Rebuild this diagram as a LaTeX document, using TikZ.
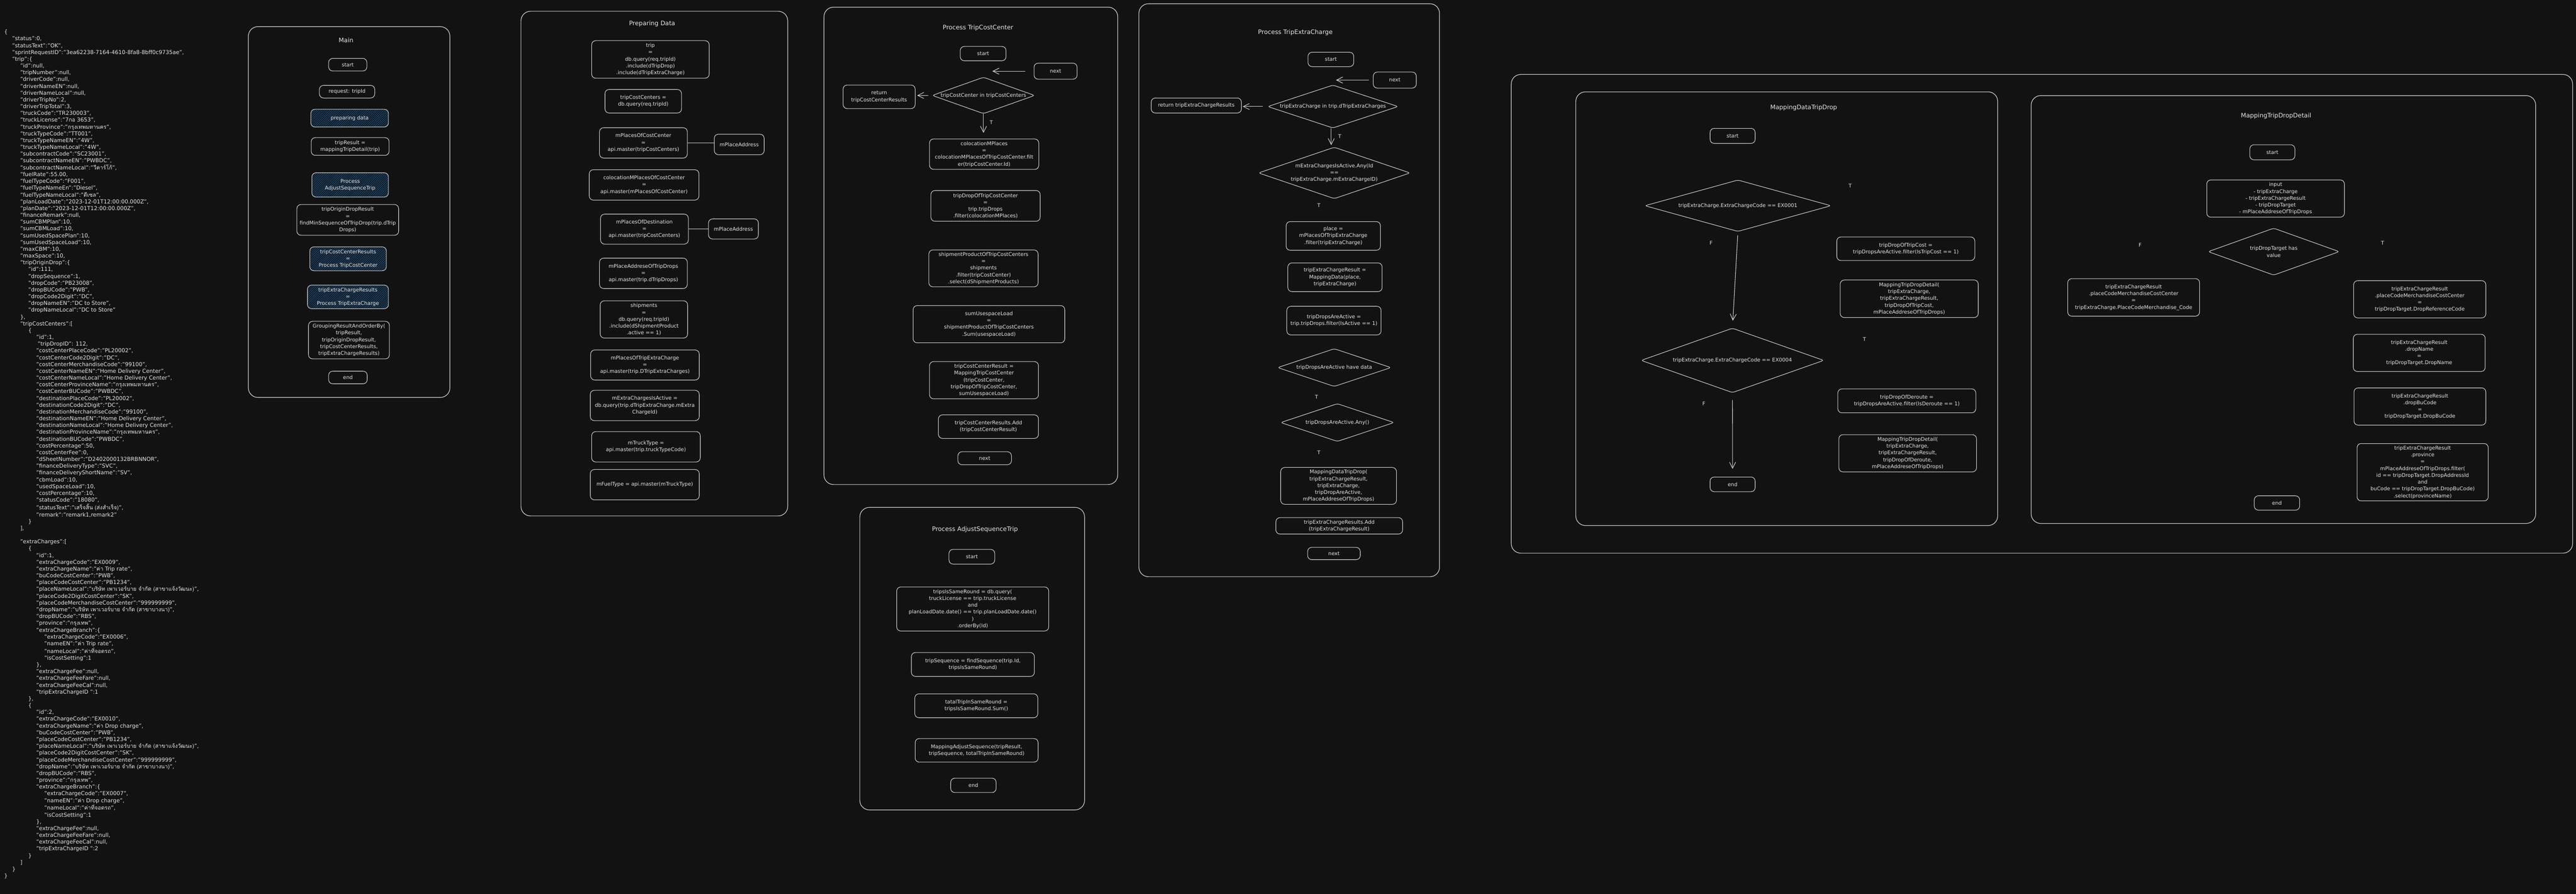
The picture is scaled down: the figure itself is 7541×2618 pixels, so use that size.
\documentclass[tikz,border=0pt]{standalone}
\usepackage{fontspec}
\setmainfont{DejaVu Sans}
\newfontfamily\thaifont[Script=Thai]{Loma}
\usetikzlibrary{shapes.geometric,arrows.meta,patterns.meta}
\definecolor{bgc}{HTML}{121212}
\definecolor{edge}{HTML}{CFCFCF}
\definecolor{txt}{HTML}{E6E6E6}
\definecolor{hatch}{HTML}{1E4B70}
\definecolor{hatchbg}{HTML}{121820}
\newlength\jsonstep
\setlength\jsonstep{23.5pt}
\newcommand\jin[1]{\hspace*{#1\jsonstep}}
\newcommand\thtext[1]{{\thaifont #1}}
\begin{document}
\begin{tikzpicture}[x=1pt,y=-1pt,
	font=\fontsize{15}{20}\selectfont, text=txt,
	wh/.style 2 args={minimum width=#1pt, minimum height=#2pt},
	procbox/.style={draw=edge, line width=1.6pt, rounded corners=12pt, align=center, inner sep=0pt},
	hatchbox/.style={procbox, preaction={fill=hatchbg}, pattern={Lines[angle=45,distance=4.5pt,line width=1.5pt]}, pattern color=hatch},
	decision/.style={draw=edge, line width=1.6pt, diamond, rounded corners=6pt, inner sep=0pt},
	panel/.style={draw=edge, line width=1.8pt, rounded corners=28pt},
	ttl/.style={font=\fontsize{18}{22}\selectfont},
	tf/.style={font=\fontsize{15}{18}\selectfont},
	flowarrow/.style={draw=edge, line width=1.6pt, -{Straight Barb[length=18pt,width=18pt]}},
	jsonblock/.style={anchor=north west, inner sep=0pt, font=\fontsize{16}{19.86}\selectfont}]

	\useasboundingbox (0,0) rectangle (7541,2618);
	\fill[bgc] (0,0) rectangle (7541,2618);

	% json sample
	\node[jsonblock] (json) at (12,85) {\begin{tabular}{@{}l@{}}
	\{\\
	\jin{1}"status":0,\\
	\jin{1}"statusText":"OK",\\
	\jin{1}"sprintRequestID":"3ea62238-7164-4610-8fa8-8bff0c9735ae",\\
	\jin{1}"trip":\{\\
	\jin{2}"id":null,\\
	\jin{2}"tripNumber":null,\\
	\jin{2}"driverCode":null,\\
	\jin{2}"driverNameEN":null,\\
	\jin{2}"driverNameLocal":null,\\
	\jin{2}"driverTripNo":2,\\
	\jin{2}"driverTripTotal":3,\\
	\jin{2}"truckCode":"TR230003",\\
	\jin{2}"truckLicense":"7\thtext{กอ} 3653",\\
	\jin{2}"truckProvince":"\thtext{กรุงเทพมหานคร}",\\
	\jin{2}"truckTypeCode":"TT001",\\
	\jin{2}"truckTypeNameEN":"4W",\\
	\jin{2}"truckTypeNameLocal":"4W",\\
	\jin{2}"subcontractCode":"SC23001",\\
	\jin{2}"subcontractNameEN":"PWBDC",\\
	\jin{2}"subcontractNameLocal":"\thtext{วีคาร์โก้}",\\
	\jin{2}"fuelRate":55.00,\\
	\jin{2}"fuelTypeCode":"F001",\\
	\jin{2}"fuelTypeNameEn":"Diesel",\\
	\jin{2}"fuelTypeNameLocal":"\thtext{ดีเซล}",\\
	\jin{2}"planLoadDate":"2023-12-01T12:00:00.000Z",\\
	\jin{2}"planDate":"2023-12-01T12:00:00.000Z",\\
	\jin{2}"financeRemark":null,\\
	\jin{2}"sumCBMPlan":10,\\
	\jin{2}"sumCBMLoad":10,\\
	\jin{2}"sumUsedSpacePlan":10,\\
	\jin{2}"sumUsedSpaceLoad":10,\\
	\jin{2}"maxCBM":10,\\
	\jin{2}"maxSpace":10,\\
	\jin{2}"tripOriginDrop":\{\\
	\jin{3}"id":111,\\
	\jin{3}"dropSequence":1,\\
	\jin{3}"dropCode":"PB23008",\\
	\jin{3}"dropBUCode":"PWB",\\
	\jin{3}"dropCode2Digit":"DC",\\
	\jin{3}"dropNameEN":"DC to Store",\\
	\jin{3}"dropNameLocal":"DC to Store"\\
	\jin{2}\},\\
	\jin{2}"tripCostCenters":[\\
	\jin{3}\{\\
	\jin{4}"id":1,\\
	\jin{4}\hspace*{4pt}"tripDropID": 112,\\
	\jin{4}"costCenterPlaceCode":"PL20002",\\
	\jin{4}"costCenterCode2Digit":"DC",\\
	\jin{4}"costCenterMerchandiseCode":"99100",\\
	\jin{4}"costCenterNameEN":"Home Delivery Center",\\
	\jin{4}"costCenterNameLocal":"Home Delivery Center",\\
	\jin{4}"costCenterProvinceName":"\thtext{กรุงเทพมหานคร}",\\
	\jin{4}"costCenterBUCode":"PWBDC",\\
	\jin{4}"destinationPlaceCode":"PL20002",\\
	\jin{4}"destinationCode2Digit":"DC",\\
	\jin{4}"destinationMerchandiseCode":"99100",\\
	\jin{4}"destinationNameEN":"Home Delivery Center",\\
	\jin{4}"destinationNameLocal":"Home Delivery Center",\\
	\jin{4}"destinationProvinceName":"\thtext{กรุงเทพมหานคร}",\\
	\jin{4}"destinationBUCode":"PWBDC",\\
	\jin{4}"costPercentage":50,\\
	\jin{4}"costCenterFee":0,\\
	\jin{4}"dSheetNumber":"D2402000132BRBNNOR",\\
	\jin{4}"financeDeliveryType":"SVC",\\
	\jin{4}"financeDeliveryShortName":"SV",\\
	\jin{4}"cbmLoad":10,\\
	\jin{4}"usedSpaceLoad":10,\\
	\jin{4}"costPercentage":10,\\
	\jin{4}"statusCode":"18080",\\
	\jin{4}"statusText":"\thtext{เสร็จสิ้น (ส่งสำเร็จ)}",\\
	\jin{4}"remark":"remark1,remark2"\\
	\jin{3}\}\\
	\jin{2}],\\
	\mbox{}\\
	\jin{2}"extraCharges":[\\
	\jin{3}\{\\
	\jin{4}"id":1,\\
	\jin{4}"extraChargeCode":"EX0009",\\
	\jin{4}"extraChargeName":"\thtext{ค่า} Trip rate",\\
	\jin{4}"buCodeCostCenter":"PWB",\\
	\jin{4}"placeCodeCostCenter":"PB1234",\\
	\jin{4}"placeNameLocal":"\thtext{บริษัท เพาเวอร์บาย จำกัด (สาขาแจ้งวัฒนะ)}",\\
	\jin{4}"placeCode2DigitCostCenter":"SK",\\
	\jin{4}"placeCodeMerchandiseCostCenter":"999999999",\\
	\jin{4}"dropName":"\thtext{บริษัท เพาเวอร์บาย จำกัด (สาขาบางนา)}",\\
	\jin{4}"dropBUCode":"RBS",\\
	\jin{4}"province":"\thtext{กรุงเทพ}",\\
	\jin{4}"extraChargeBranch":\{\\
	\jin{5}"extraChargeCode":"EX0006",\\
	\jin{5}"nameEN":"\thtext{ค่า} Trip rate",\\
	\jin{5}"nameLocal":"\thtext{ค่าที่จอดรถ}",\\
	\jin{5}"isCostSetting":1\\
	\jin{4}\},\\
	\jin{4}"extraChargeFee":null,\\
	\jin{4}"extraChargeFeeFare":null,\\
	\jin{4}"extraChargeFeeCal":null,\\
	\jin{4}"tripExtraChargeID ":1\\
	\jin{3}\},\\
	\jin{3}\{\\
	\jin{4}"id":2,\\
	\jin{4}"extraChargeCode":"EX0010",\\
	\jin{4}"extraChargeName":"\thtext{ค่า} Drop charge",\\
	\jin{4}"buCodeCostCenter":"PWB",\\
	\jin{4}"placeCodeCostCenter":"PB1234",\\
	\jin{4}"placeNameLocal":"\thtext{บริษัท เพาเวอร์บาย จำกัด (สาขาแจ้งวัฒนะ)}",\\
	\jin{4}"placeCode2DigitCostCenter":"SK",\\
	\jin{4}"placeCodeMerchandiseCostCenter":"999999999",\\
	\jin{4}"dropName":"\thtext{บริษัท เพาเวอร์บาย จำกัด (สาขาบางนา)}",\\
	\jin{4}"dropBUCode":"RBS",\\
	\jin{4}"province":"\thtext{กรุงเทพ}",\\
	\jin{4}"extraChargeBranch":\{\\
	\jin{5}"extraChargeCode":"EX0007",\\
	\jin{5}"nameEN":"\thtext{ค่า} Drop charge",\\
	\jin{5}"nameLocal":"\thtext{ค่าที่จอดรถ}",\\
	\jin{5}"isCostSetting":1\\
	\jin{4}\},\\
	\jin{4}"extraChargeFee":null,\\
	\jin{4}"extraChargeFeeFare":null,\\
	\jin{4}"extraChargeFeeCal":null,\\
	\jin{4}"tripExtraChargeID ":2\\
	\jin{3}\}\\
	\jin{2}]\\
	\jin{1}\}\\
	\}
	\end{tabular}};

	% Main
	\draw[panel] (727,78) rectangle (1317,1164);
	\node[ttl] (mTitle) at (1013,118) {Main};
	\node[procbox, wh={112}{37}] (mStart) at (1018,189.5) {start};
	\node[procbox, wh={162}{37}] (mRequest) at (1016,268.5) {request: tripId};
	\node[hatchbox, wh={227}{52}] (mPrep) at (1023.5,346) {preparing data};
	\node[procbox, wh={228}{52}] (mTripResult) at (1025,429) {tripResult =\\mappingTripDetail(trip)};
	\node[hatchbox, wh={224}{71}] (mAdjust) at (1025,541.5) {Process\\AdjustSequenceTrip};
	\node[procbox, wh={298}{90}] (mOrigin) at (1018,644) {tripOriginDropResult\\=\\findMinSequenceOfTripDrop(trip.dTrip\\Drops)};
	\node[hatchbox, wh={224}{70}] (mCost) at (1019,758) {tripCostCenterResults\\=\\Process TripCostCenter};
	\node[hatchbox, wh={237}{69}] (mExtra) at (1018.5,869.5) {tripExtraChargeResults\\=\\Process TripExtraCharge};
	\node[procbox, wh={237}{110}] (mGroup) at (1021.5,996) {GroupingResultAndOrderBy(\\tripResult,\\tripOriginDropResult,\\tripCostCenterResults,\\tripExtraChargeResults)};
	\node[procbox, wh={113}{37}] (mEnd) at (1018.5,1105.5) {end};

	% Preparing Data
	\draw[panel] (1525,33) rectangle (2306,1511);
	\node[ttl] (pdTitle) at (1909,70) {Preparing Data};
	\node[procbox, wh={344}{110}] (pdTrip) at (1904,174) {trip\\=\\db.query(req.tripId)\\.include(dTripDrop)\\.include(dTripExtraCharge)};
	\node[procbox, wh={224}{69}] (pdCenters) at (1883,296.5) {tripCostCenters =\\db.query(req.tripId)};
	\node[procbox, wh={257}{89}] (pdCost) at (1883.5,418.5) {mPlacesOfCostCenter\\=\\api.master(tripCostCenters)};
	\node[procbox, wh={146}{60}] (pdAddrA) at (2164,423) {mPlaceAddress};
	\node[procbox, wh={321}{89}] (pdColoc) at (1885.5,541.5) {colocationMPlacesOfCostCenter\\=\\api.master(mPlacesOfCostCenter)};
	\node[procbox, wh={257}{88}] (pdDest) at (1886.5,671) {mPlacesOfDestination\\=\\api.master(tripCostCenters)};
	\node[procbox, wh={146}{59}] (pdAddrB) at (2147,670.5) {mPlaceAddress};
	\node[procbox, wh={257}{89}] (pdDrops) at (1883.5,800.5) {mPlaceAddreseOfTripDrops\\=\\api.master(trip.dTripDrops)};
	\node[procbox, wh={256}{109}] (pdShip) at (1885,935.5) {shipments\\=\\db.query(req.tripId)\\.include(dShipmentProduct\\.active == 1)};
	\node[procbox, wh={318}{88}] (pdExtra) at (1888,1069) {mPlacesOfTripExtraCharge\\=\\api.master(trip.DTripExtraCharges)};
	\node[procbox, wh={319}{89}] (pdActive) at (1887.5,1187.5) {mExtraChargesIsActive =\\db.query(trip.dTripExtraCharge.mExtra\\ChargeId)};
	\node[procbox, wh={318}{89}] (pdTruck) at (1891,1308.5) {mTruckType =\\api.master(trip.truckTypeCode)};
	\node[procbox, wh={319}{89}] (pdFuel) at (1887.5,1419.5) {mFuelType = api.master(mTruckType)};
	\draw[draw=edge, line width=1.6pt] (pdCost.east) -- (pdCost.east -| pdAddrA.west);
	\draw[draw=edge, line width=1.6pt] (pdDest.east) -- (pdDest.east -| pdAddrB.west);

	% Process TripCostCenter
	\draw[panel] (2412,21) rectangle (3272,1419);
	\node[ttl] (tcTitle) at (2863,81) {Process TripCostCenter};
	\node[procbox, wh={134}{42}] (tcStart) at (2878,157) {start};
	\node[procbox, wh={126}{47}] (tcNext) at (3090,208.5) {next};
	\node[decision, wh={300}{107}, label={center:tripCostCenter in tripCostCenters}] (tcLoop) at (2879,279.5) {};
	\node[procbox, wh={211}{69}] (tcReturn) at (2573.5,283.5) {return\\tripCostCenterResults};
	\node[procbox, wh={320}{89}] (tcColoc) at (2881,451.5) {colocationMPlaces\\=\\colocationMPlacesOfTripCostCenter.filt\\er(tripCostCenter.Id)};
	\node[procbox, wh={320}{90}] (tcDrop) at (2885,603) {tripDropOfTripCostCenter\\=\\trip.tripDrops\\.filter(colocationMPlaces)};
	\node[procbox, wh={320}{108}] (tcShip) at (2879,786) {shipmentProductOfTripCostCenters\\=\\shipments\\.filter(tripCostCenter)\\.select(dShipmentProducts)};
	\node[procbox, wh={444}{109}] (tcSum) at (2895,949.5) {sumUsespaceLoad\\=\\shipmentProductOfTripCostCenters\\.Sum(usespaceLoad)};
	\node[procbox, wh={319}{109}] (tcResult) at (2880.5,1113.5) {tripCostCenterResult =\\MappingTripCostCenter\\(tripCostCenter,\\tripDropOfTripCostCenter,\\sumUsespaceLoad)};
	\node[procbox, wh={293}{69}] (tcAdd) at (2893.5,1249.5) {tripCostCenterResults.Add\\(tripCostCenterResult)};
	\node[procbox, wh={157}{38}] (tcNext2) at (2882.5,1342) {next};
	\node[tf] (tcT) at (2902,359) {T};
	\coordinate (tcIn) at (2905,208.5);
	\draw[flowarrow, shorten <=25pt] (tcNext.west) -- (tcIn);
	\draw[flowarrow, shorten <=11pt, shorten >=5pt] (tcLoop.west) -- (tcLoop.west -| tcReturn.east);
	\draw[flowarrow, shorten >=17pt] (tcLoop.south) -- (tcLoop.south |- tcColoc.north);

	% Process TripExtraCharge
	\draw[panel] (3334,11) rectangle (4214,1689);
	\node[ttl] (teTitle) at (3792,95) {Process TripExtraCharge};
	\node[procbox, wh={134}{42}] (teStart) at (3896,174) {start};
	\node[procbox, wh={126}{47}] (teNext) at (4083,234.5) {next};
	\node[decision, wh={382}{126}, label={center:tripExtraCharge in trip.dTripExtraCharges}] (teLoop) at (3902,312) {};
	\node[procbox, wh={264}{44}] (teReturn) at (3502,309) {return tripExtraChargeResults};
	\node[decision, wh={444}{151}, label={[align=center]center:{mExtraChargesIsActive.Any(Id\\==\\tripExtraCharge.mExtraChargeID)}}] (teAny) at (3906,506.5) {};
	\node[procbox, wh={276}{84}] (tePlace) at (3903,691) {place =\\mPlacesOfTripExtraCharge\\.filter(tripExtraCharge)};
	\node[procbox, wh={276}{84}] (teResult) at (3908,812) {tripExtraChargeResult =\\MappingData(place,\\tripExtraCharge)};
	\node[procbox, wh={276}{84}] (teDrops) at (3905,939) {tripDropsAreActive =\\trip.tripDrops.filter(IsActive == 1)};
	\node[decision, wh={332}{111}, label={center:tripDropsAreActive have data}] (teHave) at (3906,1076.5) {};
	\node[decision, wh={332}{111}, label={center:tripDropsAreActive.Any()}] (teAnyDrop) at (3915,1237.5) {};
	\node[procbox, wh={339}{108}] (teMapDrop) at (3918.5,1423) {MappingDataTripDrop(\\tripExtraChargeResult,\\tripExtraCharge,\\tripDropAreActive,\\mPlaceAddreseOfTripDrops)};
	\node[procbox, wh={371}{48}] (teAdd) at (3920.5,1540) {tripExtraChargeResults.Add\\(tripExtraChargeResult)};
	\node[procbox, wh={154}{36}] (teNext2) at (3905,1621) {next};
	\node[tf] (teT1) at (3922,399) {T};
	\node[tf] (teT2) at (3861,602) {T};
	\node[tf] (teT3) at (3854,1163) {T};
	\node[tf] (teT4) at (3861,1325) {T};
	\coordinate (teIn) at (3911,234.5);
	\draw[flowarrow, shorten <=12pt] (teNext.west) -- (teIn);
	\draw[flowarrow, shorten <=14pt, shorten >=3pt] (teLoop.west) -- (teLoop.west -| teReturn.east);
	\draw[flowarrow, shorten >=5pt] ([xshift=-5pt]teLoop.south) -- ([xshift=-5pt]teLoop.south |- teAny.north);

	% Process AdjustSequenceTrip
	\draw[panel] (2517,1486) rectangle (3175,2372);
	\node[ttl] (asTitle) at (2854,1550) {Process AdjustSequenceTrip};
	\node[procbox, wh={134}{43}] (asStart) at (2845,1630.5) {start};
	\node[procbox, wh={445}{129}] (asQuery) at (2847.5,1783.5) {tripsIsSameRound = db.query(\\truckLicense == trip.truckLicense\\and\\planLoadDate.date() == trip.planLoadDate.date()\\)\\.orderBy(Id)};
	\node[procbox, wh={360}{70}] (asSeq) at (2848,1946) {tripSequence = findSequence(trip.Id,\\tripsIsSameRound)};
	\node[procbox, wh={360}{70}] (asTotal) at (2858,2067) {tatalTripInSameRound =\\tripsIsSameRound.Sum()};
	\node[procbox, wh={360}{69}] (asMap) at (2859,2197.5) {MappingAdjustSequence(tripResult,\\tripSequence, totalTripInSameRound)};
	\node[procbox, wh={133}{42}] (asEnd) at (2849.5,2300) {end};

	% mapping group
	\draw[panel] (4424,218) rectangle (7531,1620);

	% MappingDataTripDrop
	\draw[panel] (4613,269) rectangle (5848,1539);
	\node[ttl] (mdTitle) at (5280,315) {MappingDataTripDrop};
	\node[procbox, wh={132}{44}] (mdStart) at (5072,398) {start};
	\node[decision, wh={545}{151}, label={center:tripExtraCharge.ExtraChargeCode == EX0001}] (mdD1) at (5087.5,602.5) {};
	\node[procbox, wh={404}{69}] (mdTripCost) at (5579,728.5) {tripDropOfTripCost =\\tripDropsAreActive.filter(IsTripCost == 1)};
	\node[procbox, wh={404}{110}] (mdDetailA) at (5589,875) {MappingTripDropDetail(\\tripExtraCharge,\\tripExtraChargeResult,\\tripDropOfTripCost,\\mPlaceAddreseOfTripDrops)};
	\node[decision, wh={535}{189}, label={center:tripExtraCharge.ExtraChargeCode == EX0004}] (mdD2) at (5071.5,1055.5) {};
	\node[procbox, wh={404}{70}] (mdDeroute) at (5582,1174) {tripDropOfDeroute =\\tripDropsAreActive.filter(IsDeroute == 1)};
	\node[procbox, wh={403}{109}] (mdDetailB) at (5584.5,1327.5) {MappingTripDropDetail(\\tripExtraCharge,\\tripExtraChargeResult,\\tripDropOfDeroute,\\mPlaceAddreseOfTripDrops)};
	\node[procbox, wh={132}{43}] (mdEnd) at (5072,1418.5) {end};
	\node[tf] (mdT1) at (5416,545) {T};
	\node[tf] (mdF1) at (5009,711) {F};
	\node[tf] (mdT2) at (5458,994) {T};
	\node[tf] (mdF2) at (4988,1182) {F};
	\draw[flowarrow, shorten <=10pt, shorten >=21pt] (mdD1.south) -- (mdD2.north);
	\draw[flowarrow, shorten <=21pt, shorten >=23pt] (mdD2.south) -- (mdEnd.north);

	% MappingTripDropDetail
	\draw[panel] (5946,280) rectangle (7423,1533);
	\node[ttl] (dtTitle) at (6663,339) {MappingTripDropDetail};
	\node[procbox, wh={132}{44}] (dtStart) at (6652,446) {start};
	\node[procbox, wh={403}{109}] (dtInput) at (6661.5,581.5) {input\\- tripExtraCharge\\- tripExtraChargeResult\\- tripDropTarget\\- mPlaceAddreseOfTripDrops};
	\node[decision, wh={384}{138}, label={[align=center]center:{tripDropTarget has\\value}}] (dtHas) at (6656,737) {};
	\node[procbox, wh={386}{110}] (dtF) at (6246,871) {tripExtraChargeResult\\.placeCodeMerchandiseCostCenter\\=\\tripExtraCharge.PlaceCodeMerchandise\_Code};
	\node[procbox, wh={387}{109}] (dtRef) at (7083.5,876.5) {tripExtraChargeResult\\.placeCodeMerchandiseCostCenter\\=\\tripDropTarget.DropReferenceCode};
	\node[procbox, wh={386}{109}] (dtName) at (7082,1033.5) {tripExtraChargeResult\\.dropName\\=\\tripDropTarget.DropName};
	\node[procbox, wh={386}{109}] (dtBu) at (7084,1190.5) {tripExtraChargeResult\\.dropBuCode\\=\\tripDropTarget.DropBuCode};
	\node[procbox, wh={384}{168}] (dtProv) at (7092,1383) {tripExtraChargeResult\\.province\\=\\mPlaceAddreseOfTripDrops.filter(\\id == tripDropTarget.DropAddressId\\and\\buCode == tripDropTarget.DropBuCode)\\.select(provinceName)};
	\node[procbox, wh={133}{42}] (dtEnd) at (6665.5,1473) {end};
	\node[tf] (dtF1) at (6265,718) {F};
	\node[tf] (dtT1) at (6975,711) {T};

\end{tikzpicture}
\end{document}
